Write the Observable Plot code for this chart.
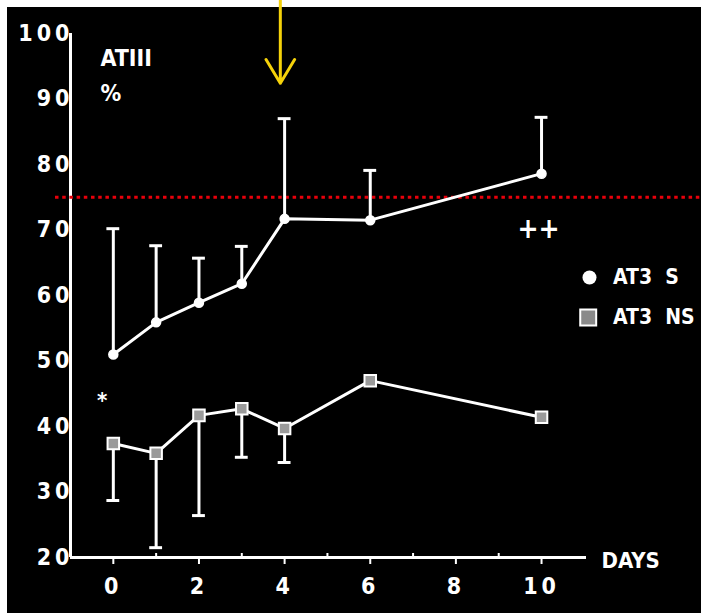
<!DOCTYPE html>
<html>
<head>
<meta charset="utf-8">
<script src="https://cdn.jsdelivr.net/npm/d3@7"></script>
<script src="https://cdn.jsdelivr.net/npm/@observablehq/plot@0.6"></script>
<style>
  html, body { margin: 0; padding: 0; background: white; }
  #wrap { padding: 7px 0 0 7px; width: 694px; height: 606px; overflow: visible; }
  .chart g[aria-label="y-axis tick label"] text,
  .chart g[aria-label="x-axis tick label"] text { letter-spacing: 4px; }
</style>
</head>
<body>
<div id="wrap"></div>
<script>
// Days of measurement
const days = [0, 1, 2, 3, 4, 6, 10];
// AT3 S group: mean and upper SD
const sMean  = [51, 55.9, 58.9, 61.8, 71.7, 71.5, 78.6];
const sUpper = [70.2, 67.6, 65.7, 67.5, 87, 79.1, 87.2];
// AT3 NS group: mean and lower SD (no bar at day 6 and 10)
const nsMean  = [37.4, 35.9, 41.7, 42.7, 39.7, 47.0, 41.4];
const nsLower = [28.7, 21.5, 26.4, 35.3, 34.5, null, null];
// Axis ticks
const yTicks = [20, 30, 40, 50, 60, 70, 80, 90, 100];
const xTicks = [0, 2, 4, 6, 8, 10];
const xMinor = [1, 3, 5, 7, 9];
// Reference level and annotation
const refLevel = 75;
const arrowDay = 3.9;
// Legend
const legendLabels = ["AT3  S", "AT3  NS"];

const S = days.map((d, i) => ({day: d, mean: sMean[i], upper: sUpper[i]}));
const NS = days.map((d, i) => ({day: d, mean: nsMean[i], lower: nsLower[i]}));
const NSbars = NS.filter(d => d.lower != null);
const capW = 0.15;

const font = "'Liberation Sans Narrow', 'DejaVu Sans Condensed', 'Arial Narrow', sans-serif";

const chart = Plot.plot({
  className: "chart",
  width: 694,
  height: 606,
  marginLeft: 63,
  marginRight: 115,
  marginTop: 26,
  marginBottom: 56,
  style: {background: "black", color: "white", fontFamily: font, fontWeight: "bold", overflow: "visible"},
  x: {domain: [-1, 11.05], axis: null},
  y: {domain: [20, 100], axis: null},
  marks: [
    // axes
    Plot.ruleX([-1], {y1: 20, y2: 100, stroke: "white", strokeWidth: 3}),
    Plot.ruleY([20], {x1: -1, x2: 11.05, stroke: "white", strokeWidth: 3}),
    Plot.axisY({ticks: yTicks, label: null, tickSize: 0, tickPadding: 0, dx: 3, fontSize: 23, fontWeight: "bold", fill: "white", fontFamily: font}),
    Plot.axisX({ticks: xTicks, label: null, tickSize: 7, tickPadding: 13, strokeWidth: 2, stroke: "white", fontSize: 23, fontWeight: "bold", fill: "white", fontFamily: font}),
    Plot.axisX({ticks: xMinor, label: null, tickSize: -4, strokeWidth: 2, stroke: "white", tickFormat: () => ""}),
    // reference line
    Plot.ruleY([refLevel], {x1: -1.35, x2: 13.7, stroke: "#e8000b", strokeWidth: 3, strokeDasharray: "3.5,3.7"}),
    // S error bars (upward)
    Plot.ruleX(S, {x: "day", y1: "mean", y2: "upper", stroke: "white", strokeWidth: 3}),
    Plot.ruleY(S, {y: "upper", x1: d => d.day - capW, x2: d => d.day + capW, stroke: "white", strokeWidth: 3}),
    // NS error bars (downward)
    Plot.ruleX(NSbars, {x: "day", y1: "mean", y2: "lower", stroke: "white", strokeWidth: 3}),
    Plot.ruleY(NSbars, {y: "lower", x1: d => d.day - capW, x2: d => d.day + capW, stroke: "white", strokeWidth: 3}),
    // lines
    Plot.line(S, {x: "day", y: "mean", stroke: "white", strokeWidth: 3}),
    Plot.line(NS, {x: "day", y: "mean", stroke: "white", strokeWidth: 3}),
    // markers
    Plot.dot(S, {x: "day", y: "mean", r: 4.5, fill: "white", stroke: "white"}),
    Plot.dot(NS, {x: "day", y: "mean", symbol: "square", r: 6.5, fill: "#9a9a9a", stroke: "white", strokeWidth: 2}),
    // labels
    Plot.text(["ATIII"], {x: -0.3, y: 96.2, text: d => d, textAnchor: "start", fontSize: 23, fill: "white"}),
    Plot.text(["%"], {x: -0.3, y: 90.8, text: d => d, textAnchor: "start", fontSize: 23, fill: "white"}),
    Plot.text(["*"], {x: -0.26, y: 44.7, text: d => d, fontSize: 22, dy: 5, fill: "white"}),
    Plot.text(["++"], {x: 9.93, y: 70.1, text: d => d, fontSize: 28, fill: "white"}),
    Plot.text(["DAYS"], {x: 11.4, y: 19.5, text: d => d, textAnchor: "start", fontSize: 22, fill: "white"}),
    // legend
    Plot.dot([legendLabels[0]], {x: 11.12, y: 62.75, r: 7, fill: "white"}),
    Plot.dot([legendLabels[1]], {x: 11.09, y: 56.64, symbol: "square", r: 9, fill: "#8a8a8a", stroke: "white", strokeWidth: 2}),
    Plot.text(legendLabels, {x: 11.67, y: [62.75, 56.64], text: d => d, textAnchor: "start", fontSize: 21, fill: "white"}),
    // yellow arrow
    Plot.arrow([arrowDay], {x1: d => d, x2: d => d, y1: 105.1, y2: 92.4, stroke: "#f5d20a", strokeWidth: 3, headLength: 22, headAngle: 62})
  ]
});
document.getElementById("wrap").appendChild(chart);
</script>
</body>
</html>
